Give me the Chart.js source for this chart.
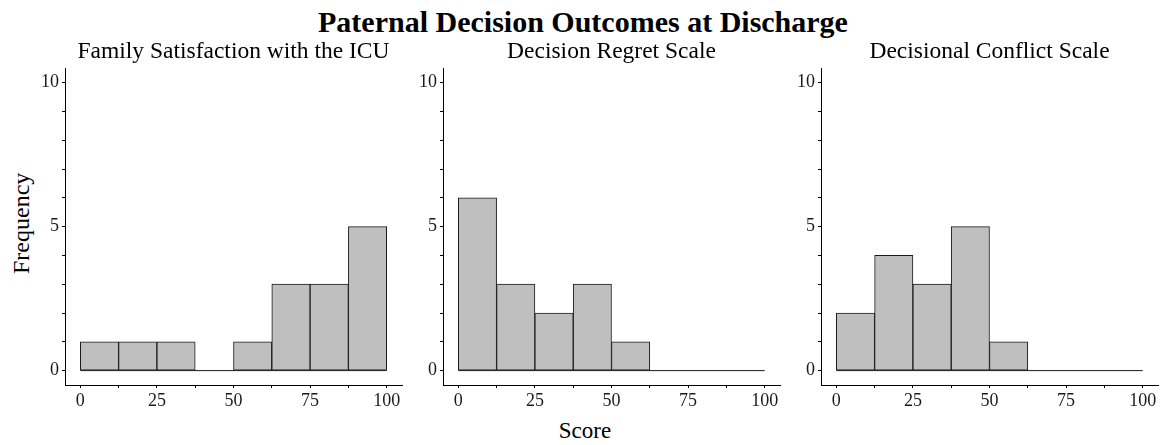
<!DOCTYPE html>
<html>
<head>
<meta charset="utf-8">
<script src="https://cdn.jsdelivr.net/npm/chart.js@4/dist/chart.umd.min.js"></script>
<style>
  body { margin: 0; background: #fff; font-family: "Liberation Serif", serif; }
  #wrap { position: relative; width: 1169px; height: 445px; overflow: hidden; }
  canvas { position: absolute; top: 36px; }
  .lbl { position: absolute; color: #000; white-space: nowrap; line-height: 1; }
</style>
</head>
<body>
<div id="wrap">
  <div class="lbl" id="titulo" style="left:0;width:1166px;text-align:center;top:7px;font-size:30px;font-weight:bold;">Paternal Decision Outcomes at Discharge</div>
  <div class="lbl" style="left:-29px;top:212px;width:100px;text-align:center;font-size:24px;transform:rotate(-90deg);">Frequency</div>
  <div class="lbl" style="left:535px;top:419px;width:100px;text-align:center;font-size:23px;">Score</div>
  <canvas id="g1" width="379" height="377" style="left:29px"></canvas>
  <canvas id="g2" width="379" height="377" style="left:407px"></canvas>
  <canvas id="g3" width="379" height="377" style="left:785px"></canvas>
</div>
<script>
// histogram bins of width 12.5 between 0 and 100
const binCenters = [6.25, 18.75, 31.25, 43.75, 56.25, 68.75, 81.25, 93.75];
const familySatisfaction = [1, 1, 1, 0, 1, 3, 3, 5];
const decisionRegret = [6, 3, 2, 3, 1, 0, 0, 0];
const decisionalConflict = [2, 4, 3, 5, 1, 0, 0, 0];
const xTicks = [0, 12.5, 25, 37.5, 50, 62.5, 75, 87.5, 100];
const yTicks = [0, 1, 2, 3, 4, 5, 6, 7, 8, 9, 10];

const fonte = 'Liberation Serif';
const corTexto = '#1a1a1a';

function histograma(id, titulo, contagens) {
  new Chart(document.getElementById(id), {
    type: 'bar',
    data: {
      datasets: [{
        type: 'bar',
        data: binCenters.map((c, i) => ({ x: c, y: contagens[i] })),
        backgroundColor: '#bfbfbf',
        borderColor: '#1a1a1a',
        borderWidth: 1,
        borderSkipped: false,
        barPercentage: 1,
        categoryPercentage: 1,
        order: 1
      }, {
        // baseline shown by the empty bins
        type: 'line',
        data: [{ x: xTicks[0], y: 0 }, { x: xTicks[xTicks.length - 1], y: 0 }],
        borderColor: '#1a1a1a',
        borderWidth: 1,
        pointRadius: 0,
        order: 2
      }]
    },
    options: {
      responsive: false,
      animation: false,
      devicePixelRatio: 1,
      layout: { padding: { left: 0, right: 6, top: 0, bottom: 0 } },
      plugins: {
        legend: { display: false },
        tooltip: { enabled: false },
        title: {
          display: true,
          fullSize: false, // centred over the plot area, not the canvas
          text: titulo,
          color: '#000',
          font: { family: fonte, size: 23.5, weight: 'normal', lineHeight: 1.2 },
          padding: { top: 2, bottom: 2 }
        }
      },
      scales: {
        x: {
          type: 'linear',
          min: -5,
          max: 105,
          offset: false,
          afterBuildTicks: ax => { ax.ticks = xTicks.map(v => ({ value: v })); },
          afterFit: ax => { ax.height = 28; },
          ticks: {
            autoSkip: false,
            maxRotation: 0,
            padding: 2,
            color: corTexto,
            font: { family: fonte, size: 18 },
            callback: v => (v % 25 === 0 ? v : '')
          },
          grid: { offset: false, drawOnChartArea: false, tickLength: 3, color: '#000' },
          border: { color: '#000', width: 1 }
        },
        y: {
          min: -0.5,
          max: 10.5,
          afterBuildTicks: ax => { ax.ticks = yTicks.map(v => ({ value: v })); },
          afterFit: ax => { ax.width = 36; },
          ticks: {
            autoSkip: false,
            padding: 3,
            color: corTexto,
            font: { family: fonte, size: 18 },
            callback: v => (v % 5 === 0 ? v : '')
          },
          grid: { drawOnChartArea: false, tickLength: 3, color: '#000' },
          border: { color: '#000', width: 1 }
        }
      }
    }
  });
}

histograma('g1', 'Family Satisfaction with the ICU', familySatisfaction);
histograma('g2', 'Decision Regret Scale', decisionRegret);
histograma('g3', 'Decisional Conflict Scale', decisionalConflict);
</script>
</body>
</html>
